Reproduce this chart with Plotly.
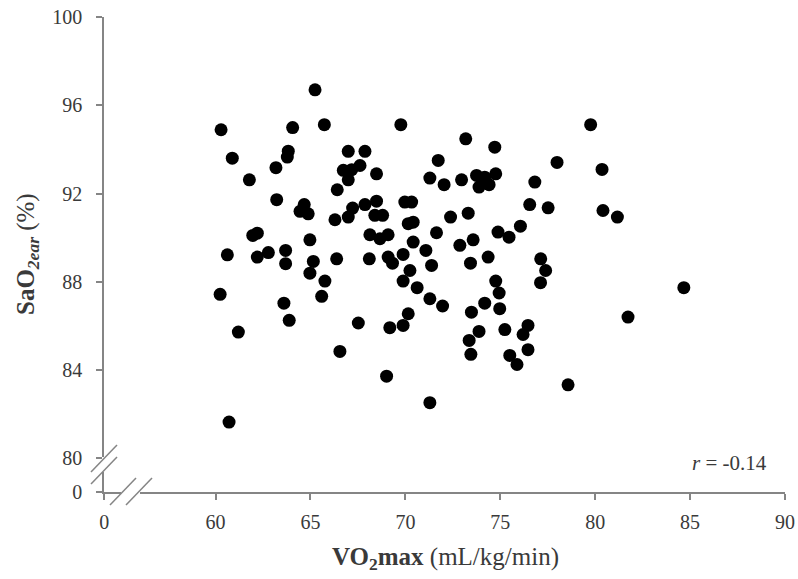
import plotly.graph_objects as go

# ---- data ----
vo2max = [
    65.24, 60.29, 64.06, 65.73, 60.88, 63.83, 63.78, 63.18, 61.78, 63.22,
    64.67, 64.45, 64.88, 61.96, 62.20, 64.97, 60.62, 62.20, 62.78, 63.69,
    63.69, 65.15, 64.97, 65.76, 65.59, 60.24, 63.60, 63.88, 61.20, 60.71,
    69.76, 73.18, 74.71, 66.99, 67.87, 71.73, 67.61, 67.17, 66.73, 66.99,
    68.48, 71.29, 72.04, 72.96, 73.75, 74.18, 74.76, 73.88, 74.41, 76.82,
    66.41, 67.87, 68.48, 69.97, 70.33, 66.29, 66.99, 67.22, 68.39, 68.80,
    70.15, 70.41, 72.38, 73.31, 76.55, 76.06, 74.88, 75.46, 71.64, 68.13,
    68.66, 69.09, 70.41, 72.87, 73.57, 71.08, 69.88, 66.38, 68.10, 69.09,
    69.32, 74.36, 73.43, 71.38, 70.24,
    69.88, 70.62, 71.29, 71.96, 74.76, 74.94, 74.18, 74.97, 73.48, 77.13,
    77.39, 77.12, 67.52, 70.15, 69.18, 69.88, 73.88, 75.24, 76.46, 76.20,
    73.36, 73.45, 75.50, 75.88, 76.46, 66.55, 69.01, 71.29,
    84.67, 81.73, 78.57, 79.76, 77.99, 80.36, 77.52, 80.41, 81.17,
]
sao2_ear = [
    96.70, 94.89, 94.99, 95.12, 93.60, 93.92, 93.65, 93.17, 92.62, 91.72,
    91.50, 91.19, 91.08, 90.10, 90.20, 89.90, 89.22, 89.12, 89.32, 89.42,
    88.82, 88.92, 88.39, 88.03, 87.34, 87.43, 87.03, 86.25, 85.72, 81.64,
    95.12, 94.48, 94.10, 93.91, 93.91, 93.50, 93.27, 93.08, 93.05, 92.62,
    92.89, 92.70, 92.40, 92.62, 92.82, 92.74, 92.89, 92.29, 92.40, 92.52,
    92.17, 91.50, 91.65, 91.61, 91.61, 90.81, 90.93, 91.34, 91.01, 91.01,
    90.63, 90.70, 90.93, 91.11, 91.50, 90.52, 90.25, 90.02, 90.22, 90.13,
    89.95, 90.13, 89.80, 89.65, 89.90, 89.42, 89.24, 89.04, 89.04, 89.12,
    88.84, 89.12, 88.84, 88.74, 88.51,
    88.03, 87.73, 87.23, 86.90, 88.03, 87.49, 87.03, 86.78, 86.62, 89.04,
    88.51, 87.96, 86.13, 86.55, 85.92, 86.02, 85.75, 85.83, 86.02, 85.61,
    85.34, 84.71, 84.66, 84.25, 84.92, 84.84, 83.72, 82.52,
    87.73, 86.40, 83.33, 95.12, 93.41, 93.09, 91.35, 91.23, 90.93,
]

x_ticks = [60, 65, 70, 75, 80, 85, 90]
y_ticks = [80, 84, 88, 92, 96, 100]
r_text = "<i>r</i> = -0.14"

# ---- layout constants (pixels) ----
W, H = 798, 579
ML, MR, MT, MB = 104, 13, 17, 87
PW, PH = W - ML - MR, H - MT - MB
X_MIN_SHOWN, X_MAX = 60, 90
Y_MIN_SHOWN, Y_MAX = 80, 100
x_break = X_MIN_SHOWN - (215.5 - ML) / 19.0   # where "0" sits on the x axis
y_break = Y_MIN_SHOWN - 1.52                   # where "0" sits on the y axis

def fx(px):
    return (px - ML) / PW

def fy(py):
    return (MT + PH - py) / PH

FONT = "Liberation Serif, Times New Roman, serif"
AXIS_COLOR = "#858585"
TEXT_COLOR = "#3a3a3a"

fig = go.Figure()
fig.add_trace(go.Scatter(
    x=vo2max, y=sao2_ear, mode="markers",
    marker=dict(color="black", size=13, line=dict(width=0)),
    cliponaxis=False, showlegend=False, hoverinfo="skip",
))

fig.update_xaxes(
    range=[x_break - 0.01, X_MAX],
    tickvals=[x_break] + x_ticks,
    ticktext=["0"] + [str(v) for v in x_ticks],
    showgrid=False, zeroline=False,
    showline=True, linecolor=AXIS_COLOR, linewidth=1.5,
    ticks="outside", ticklen=6, tickwidth=1.5, tickcolor=AXIS_COLOR,
    tickfont=dict(family=FONT, size=20, color=TEXT_COLOR),
    ticklabelstandoff=5,
)
fig.update_yaxes(
    range=[y_break - 0.01, Y_MAX],
    tickvals=[y_break] + y_ticks,
    ticktext=["0"] + [str(v) for v in y_ticks],
    showgrid=False, zeroline=False,
    showline=True, linecolor=AXIS_COLOR, linewidth=1.5,
    ticks="outside", ticklen=6, tickwidth=1.5, tickcolor=AXIS_COLOR,
    tickfont=dict(family=FONT, size=20, color=TEXT_COLOR),
    ticklabelstandoff=10,
)

shapes = []
# gaps in axis lines (white) for the breaks
shapes.append(dict(type="line", xref="paper", yref="paper",
                   x0=fx(ML), x1=fx(ML), y0=fy(457), y1=fy(472),
                   line=dict(color="white", width=4), layer="above"))
shapes.append(dict(type="line", xref="paper", yref="paper",
                   x0=fx(121), x1=fx(140), y0=fy(MT + PH), y1=fy(MT + PH),
                   line=dict(color="white", width=4), layer="above"))
# slashes
for (x0, y0, x1, y1) in [(91, 472, 117, 445), (91, 484, 117, 457),
                         (110, 505, 136, 478), (126, 505, 152, 478)]:
    shapes.append(dict(type="line", xref="paper", yref="paper",
                       x0=fx(x0), y0=fy(y0), x1=fx(x1), y1=fy(y1),
                       line=dict(color=AXIS_COLOR, width=1.5), layer="above"))

annotations = [
    dict(text=r_text, xref="paper", yref="paper", x=fx(769), y=fy(463),
         xanchor="right", yanchor="middle", showarrow=False,
         font=dict(family=FONT, size=21, color=TEXT_COLOR)),
    dict(text="<b>VO<sub>2</sub>max</b> (mL/kg/min)", xref="paper", yref="paper",
         x=fx(445), y=fy(558), xanchor="center", yanchor="middle", showarrow=False,
         font=dict(family=FONT, size=25, color=TEXT_COLOR)),
    dict(text="<b>SaO<sub><i>2ear</i></sub></b> (%)", xref="paper", yref="paper",
         x=fx(28), y=fy(254), xanchor="center", yanchor="middle", showarrow=False,
         textangle=-90,
         font=dict(family=FONT, size=25, color=TEXT_COLOR)),
]

fig.update_layout(
    width=W, height=H,
    margin=dict(l=ML, r=MR, t=MT, b=MB, autoexpand=False),
    paper_bgcolor="white", plot_bgcolor="white",
    shapes=shapes, annotations=annotations,
    font=dict(family=FONT),
    hovermode=False,
)

fig.write_html(
    "out.html",
    config={"displayModeBar": False},
    post_script="document.body.style.margin='0';document.body.style.overflow='hidden';",
)
